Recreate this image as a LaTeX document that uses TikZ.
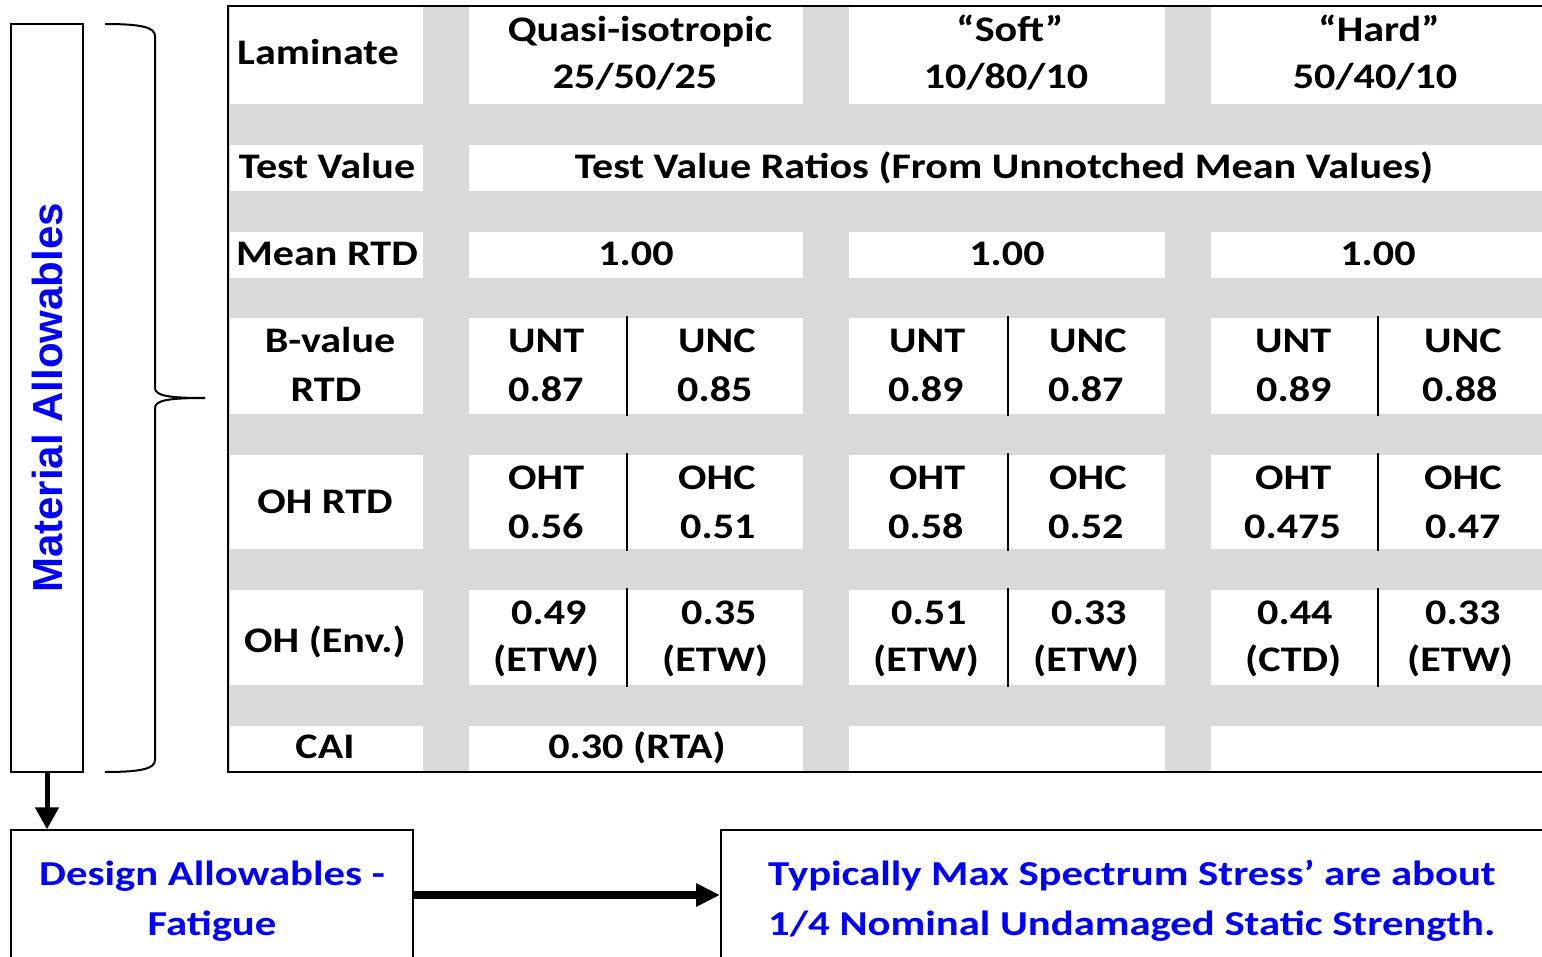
\documentclass[tikz,border=0pt]{standalone}
\usepackage{fontspec}
\setmainfont{Carlito}
\newfontfamily\tabfont{Carlito}[FakeStretch=1.17]
\newfontfamily\bluefont{Carlito}[FakeStretch=1.22]
\newfontfamily\arialfont{Liberation Sans}
\usetikzlibrary{arrows.meta,positioning}
\definecolor{cellgray}{RGB}{217,217,217}
\definecolor{textblue}{RGB}{0,0,255}
\tikzset{
  celltext/.style={font=\tabfont\fontsize{36}{43}\selectfont\bfseries, inner sep=0pt, anchor=base},
  celltextl/.style={celltext, anchor=base west},
  bluetext/.style={font=\bluefont\fontsize{35}{50}\selectfont\bfseries, text=textblue, inner sep=0pt},
  divider/.style={line width=2pt},
  bigbox/.style={draw, line width=1.5pt, inner sep=0pt},
}
\begin{document}
\begin{tikzpicture}[x=1pt,y=-1pt]
        \useasboundingbox (0,0) rectangle (1542,957);
        %TABLE
        \fill[cellgray] (229,6) rectangle (1560,772);
        \foreach \ya/\yb in {6/104,145/191,232/278,318/414,455/549,590/685,726/772}
            \fill[white] (230,\ya) rectangle (423,\yb);
        \foreach \ya/\yb in {6/104,232/278,318/414,455/549,590/685,726/772}{
            \fill[white] (469,\ya) rectangle (803,\yb);
            \fill[white] (849,\ya) rectangle (1165,\yb);
            \fill[white] (1211,\ya) rectangle (1560,\yb);
        }
        \fill[white] (469,145) rectangle (1560,191);
        \foreach \x in {627,1008,1378}
            \foreach \ya/\yb in {316/416,453/551,588/687}
                \draw[divider] (\x,\ya) -- (\x,\yb);
        \draw[line width=1.5pt] (1560,6) -- (228,6) -- (228,772) -- (1560,772);
        %ROW LABELS
        \node[celltextl] (lam) at (237,65) {Laminate};
        \node[celltext] (tv) at (327,179) {Test Value};
        \node[celltext] (mean) at (327,266) {Mean RTD};
        \node[celltext] (bval) at (330,353) {B-value};
        \node[celltext] (brtd) at (326,402) {RTD};
        \node[celltext] (ohrtd) at (325,513) {OH RTD};
        \node[celltext] (ohenv) at (325,652) {OH (Env.)};
        \node[celltext] (cai) at (325,758) {CAI};
        %LAMINATES
        \node[celltext] (quasi) at (640,42) {Quasi-isotropic};
        \node[celltext] (quasin) at (635,89) {25/50/25};
        \node[celltext] (soft) at (1010,42) {“Soft”};
        \node[celltext] (softn) at (1006,89) {10/80/10};
        \node[celltext] (hard) at (1379,42) {“Hard”};
        \node[celltext] (hardn) at (1375,89) {50/40/10};
        \node[celltext] (ratio) at (1004,179) {Test Value Ratios (From Unnotched Mean Values)};
        %MEAN
        \node[celltext] (qmean) at (636,266) {1.00};
        \node[celltext] (smean) at (1007,266) {1.00};
        \node[celltext] (hmean) at (1378,266) {1.00};
        %B-VALUE
        \node[celltextl] (qunt) at (508,353) {UNT};
        \node[celltextl] (qunt2) at (508,402) {0.87};
        \node[celltextl] (qunc) at (678,353) {UNC};
        \node[celltextl] (qunc2) at (677,402) {0.85};
        \node[celltextl] (sunt) at (889,353) {UNT};
        \node[celltextl] (sunt2) at (888,402) {0.89};
        \node[celltextl] (sunc) at (1049,353) {UNC};
        \node[celltextl] (sunc2) at (1048,402) {0.87};
        \node[celltextl] (hunt) at (1255,353) {UNT};
        \node[celltextl] (hunt2) at (1256,402) {0.89};
        \node[celltextl] (hunc) at (1424,353) {UNC};
        \node[celltextl] (hunc2) at (1422,402) {0.88};
        %OPEN HOLE
        \node[celltextl] (qoht) at (508,489) {OHT};
        \node[celltextl] (qoht2) at (508,538) {0.56};
        \node[celltextl] (qohc) at (678,489) {OHC};
        \node[celltextl] (qohc2) at (680,538) {0.51};
        \node[celltextl] (soht) at (889,489) {OHT};
        \node[celltextl] (soht2) at (888,538) {0.58};
        \node[celltextl] (sohc) at (1049,489) {OHC};
        \node[celltextl] (sohc2) at (1048,538) {0.52};
        \node[celltextl] (hoht) at (1255,489) {OHT};
        \node[celltextl] (hoht2) at (1244,538) {0.475};
        \node[celltextl] (hohc) at (1424,489) {OHC};
        \node[celltextl] (hohc2) at (1425,538) {0.47};
        %ENVIRONMENT
        \node[celltextl] (qenv) at (511,624) {0.49};
        \node[celltextl] (qenv2) at (493,671) {(ETW)};
        \node[celltextl] (qenvc) at (681,624) {0.35};
        \node[celltextl] (qenvc2) at (662,671) {(ETW)};
        \node[celltextl] (senv) at (891,624) {0.51};
        \node[celltextl] (senv2) at (873,671) {(ETW)};
        \node[celltextl] (senvc) at (1051,624) {0.33};
        \node[celltextl] (senvc2) at (1033,671) {(ETW)};
        \node[celltextl] (henv) at (1257,624) {0.44};
        \node[celltextl] (henv2) at (1245,671) {(CTD)};
        \node[celltextl] (henvc) at (1425,624) {0.33};
        \node[celltextl] (henvc2) at (1407,671) {(ETW)};
        %CAI
        \node[celltext] (qcai) at (637,758) {0.30 (RTA)};
        %MATERIAL ALLOWABLES
        \node[draw, line width=2pt, rotate=90, minimum width=748pt, minimum height=72pt, inner sep=0pt,
              font=\arialfont\fontsize{42}{50}\selectfont\bfseries, text=textblue] (mat) at (47,398) {Material Allowables};
        \draw[line width=2pt] (105,24) .. controls (140,24) and (155,27) .. (155,36) -- (155,388)
              .. controls (155,396) and (170,398) .. (205,398);
        \draw[line width=2pt] (105,772) .. controls (140,772) and (155,769) .. (155,760) -- (155,408)
              .. controls (155,400) and (170,398) .. (205,398);
        %DESIGN ALLOWABLES
        \node[bigbox, minimum width=402pt, minimum height=130pt] (des) at (212,895) {};
        \node[bluetext, align=center, anchor=base] (destxt) at (212,935) {Design Allowables -\\Fatigue};
        \node[bigbox, minimum width=860pt, minimum height=130pt, anchor=west] (typ) at (720,895) {};
        \node[bluetext, align=left, anchor=base west] (typtxt) at (768,935) {Typically Max Spectrum Stress’ are about\\1/4 Nominal Undamaged Static Strength.};
        %ARROWS
        \draw[line width=5pt, -{Triangle[length=22pt,width=23pt]}] (mat.west) -- (mat.west |- des.north);
        \draw[line width=8pt, -{Triangle[length=24pt,width=22pt]}] (des.east) -- (typ.west);
    \end{tikzpicture}
\end{document}
